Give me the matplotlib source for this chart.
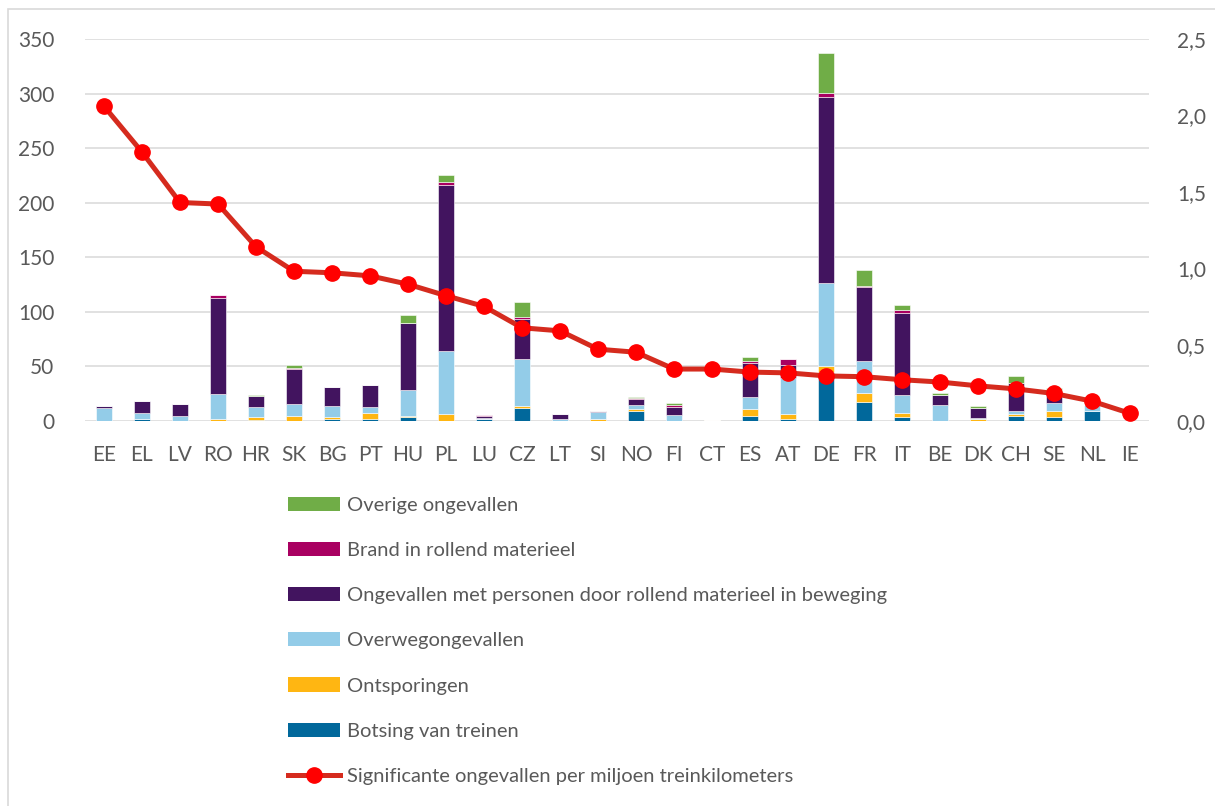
import matplotlib
matplotlib.use("Agg")
import matplotlib.pyplot as plt
import matplotlib.patches as mpatches
from matplotlib.lines import Line2D
import numpy as np

FONT = ["Lato", "DejaVu Sans"]
TEXT_COLOR = "#595959"
GRID_COLOR = "#D9D9D9"

countries = ["EE", "EL", "LV", "RO", "HR", "SK", "BG", "PT", "HU", "PL", "LU", "CZ", "LT", "SI",
             "NO", "FI", "CT", "ES", "AT", "DE", "FR", "IT", "BE", "DK", "CH", "SE", "NL", "IE"]

botsing = [0, 2, 0, 0, 1.2, 0, 1.5, 2.1, 3.4, 0, 1.5, 12.2, 0, 0,
           9.2, 0, 0, 4.9, 2.1, 44.6, 17.1, 4, 0, 0, 4.9, 4, 9.2, 0]
ontsporingen = [0, 0, 0, 1.5, 2.1, 4.6, 2.1, 4.9, 1.2, 6.4, 0, 1.8, 0, 2.1,
                2.1, 0, 0.6, 6.1, 4, 5.8, 8.2, 3.1, 0, 1.8, 1.5, 4.9, 0, 0]
overweg = [11.5, 5.2, 4.6, 22.9, 9.2, 11, 9.8, 6.1, 23.8, 58, 1.2, 43.1, 1.5, 6.1,
           3, 5.2, 0, 11.3, 33, 76, 29.9, 16.5, 14.4, 0.6, 2.7, 7.3, 5.5, 0]
personen = [2, 11.3, 11, 88.3, 10, 32, 18, 20.2, 61.7, 152.1, 1.5, 36, 4.9, 0.9,
            6.1, 7.3, 0, 31.2, 12.2, 170.7, 67.5, 75.7, 9.2, 9.5, 26, 10.7, 0, 0]
brand = [0.5, 0, 0, 2.4, 0, 0.8, 0, 0, 0, 2.4, 1.5, 1.8, 0, 0,
         0.5, 1.8, 0, 1.8, 5.2, 3.1, 1.2, 2.4, 0, 0, 0, 0, 0, 0]
overige = [0, 0, 0, 0, 1.2, 3, 0, 0, 6.7, 6.4, 0, 13.7, 0, 0,
           1.5, 1.8, 0, 3, 0, 37.3, 14.1, 4.9, 1.8, 1.5, 6.1, 3.7, 0, 0]

per_mln_km = [2.06, 1.76, 1.43, 1.42, 1.14, 0.98, 0.97, 0.95, 0.895, 0.82, 0.75, 0.61, 0.59, 0.47,
              0.45, 0.34, 0.34, 0.32, 0.315, 0.295, 0.29, 0.27, 0.255, 0.23, 0.21, 0.18, 0.13, 0.05]

series = [
    ("Botsing van treinen", botsing, "#01689B"),
    ("Ontsporingen", ontsporingen, "#FFB612"),
    ("Overwegongevallen", overweg, "#93CCE8"),
    ("Ongevallen met personen door rollend materieel in beweging", personen, "#42145F"),
    ("Brand in rollend materieel", brand, "#A90061"),
    ("Overige ongevallen", overige, "#70AD47"),
]
line_label = "Significante ongevallen per miljoen treinkilometers"

plt.rcParams.update({
    "font.family": FONT,
    "font.size": 15,
    "text.color": TEXT_COLOR,
    "xtick.color": TEXT_COLOR,
    "ytick.color": TEXT_COLOR,
})

fig = plt.figure(figsize=(12.15, 8.06), dpi=100)
ax = fig.add_axes([85 / 1215, 1 - 421 / 806, (1149 - 85) / 1215, (421 - 39) / 806])
ax2 = ax.twinx()

x = np.arange(len(countries))
bottom = np.zeros(len(countries))
handles = []
for label, vals, color in series:
    vals = np.array(vals, dtype=float)
    ax.bar(x, vals, 0.4, bottom=bottom, color=color, edgecolor="white",
           linewidth=0.4, zorder=3)
    bottom += vals
    handles.append(mpatches.Patch(facecolor=color, edgecolor="none", label=label))

ax.set_xlim(-0.5, len(countries) - 0.5)
ax.set_ylim(0, 350)
ax.set_yticks(np.arange(0, 351, 50))
ax.set_xticks(x)
ax.set_xticklabels(countries)
ax.grid(True, axis="y", color=GRID_COLOR, linewidth=1.1, zorder=0)
ax.set_axisbelow(True)
for s in ax.spines.values():
    s.set_visible(False)
for s in ax2.spines.values():
    s.set_visible(False)
ax.tick_params(axis="both", length=0, labelsize=15)
ax.tick_params(axis="y", pad=22)
ax.tick_params(axis="x", pad=17)

ax2.plot(x, per_mln_km, color="#D52B1E", linewidth=3.6, marker="o",
         markersize=11, markerfacecolor="#FF0000", markeredgecolor="#FF0000", zorder=5)
ax2.set_ylim(0, 2.5)
ax2.set_yticks(np.arange(0, 2.51, 0.5))
ax2.set_yticklabels([f"{v:.1f}".replace(".", ",") for v in np.arange(0, 2.51, 0.5)])
ax2.tick_params(axis="y", length=0, labelsize=15, pad=20)
ax.set_zorder(1)
ax2.set_zorder(2)
ax2.patch.set_visible(False)

line_handle = Line2D([], [], color="#D52B1E", linewidth=3.6, marker="o", markersize=11,
                     markerfacecolor="#FF0000", markeredgecolor="#FF0000", label=line_label)
leg_handles = handles[::-1] + [line_handle]
fig.legend(handles=leg_handles, loc="upper left", bbox_to_anchor=(270 / 1215, 1 - 479 / 806),
           frameon=False, fontsize=14.5, handlelength=2.6, handleheight=0.7,
           handletextpad=0.3, labelspacing=1.39, labelcolor=TEXT_COLOR)

# light frame around the chart
fig.add_artist(mpatches.Rectangle((8 / 1215, -0.05), 1.1, 1 - 9 / 806 + 0.05,
                                  transform=fig.transFigure, fill=False,
                                  edgecolor=GRID_COLOR, linewidth=1.2))

fig.savefig("out.png", dpi=100)
